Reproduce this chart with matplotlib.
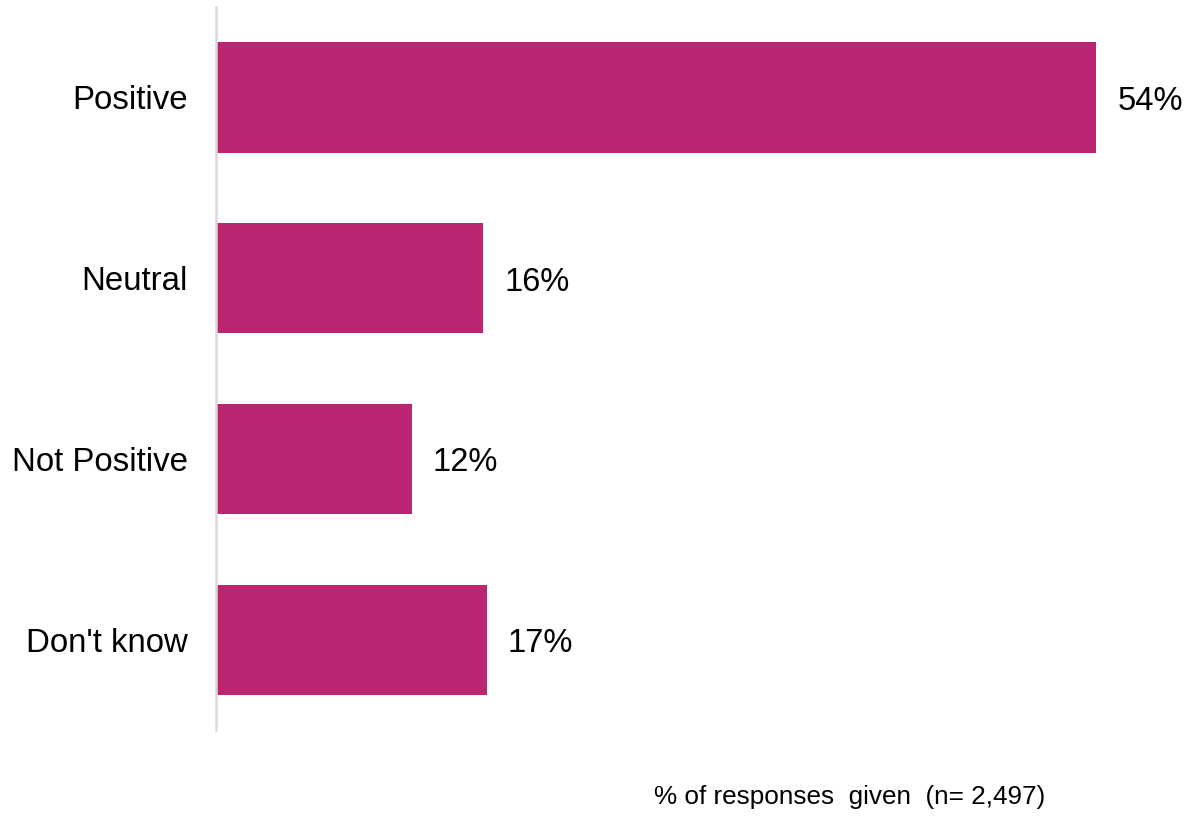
import matplotlib
matplotlib.use("Agg")
import matplotlib.pyplot as plt

plt.rcParams['font.family'] = ['Liberation Sans', 'DejaVu Sans']

categories = ["Positive", "Neutral", "Not Positive", "Don't know"]
values = [54.0, 16.4, 12.0, 16.6]
value_labels = ["54%", "16%", "12%", "17%"]
bar_color = "#BC2572"

fig = plt.figure(figsize=(12, 8.26), dpi=100)
ax = fig.add_axes([0.18, 0.116, 0.815, 0.8755])

ypos = range(len(categories))
ax.barh(ypos, values, height=0.61, color=bar_color)

for y, v, lab in zip(ypos, values, value_labels):
    ax.annotate(lab, (v, y), xytext=(21, -4), textcoords="offset pixels",
                va="center", ha="left", fontsize=23.5, color="black")

ax.set_yticks(list(ypos))
ax.set_yticklabels(categories, fontsize=23.8)
ax.tick_params(axis="y", length=0, pad=20.5)
ax.set_xticks([])
ax.set_xlim(0, 60)
ax.set_ylim(3.5, -0.5)

for side in ["top", "right", "bottom"]:
    ax.spines[side].set_visible(False)
ax.spines["left"].set_color("#D9D9D9")
ax.spines["left"].set_linewidth(1.8)

fig.text(850 / 1200, 1 - 797 / 826, "% of responses  given  (n= 2,497)",
         ha="center", va="center", fontsize=18.8, color="black")

fig.savefig("out.png", dpi=100, facecolor="white")
